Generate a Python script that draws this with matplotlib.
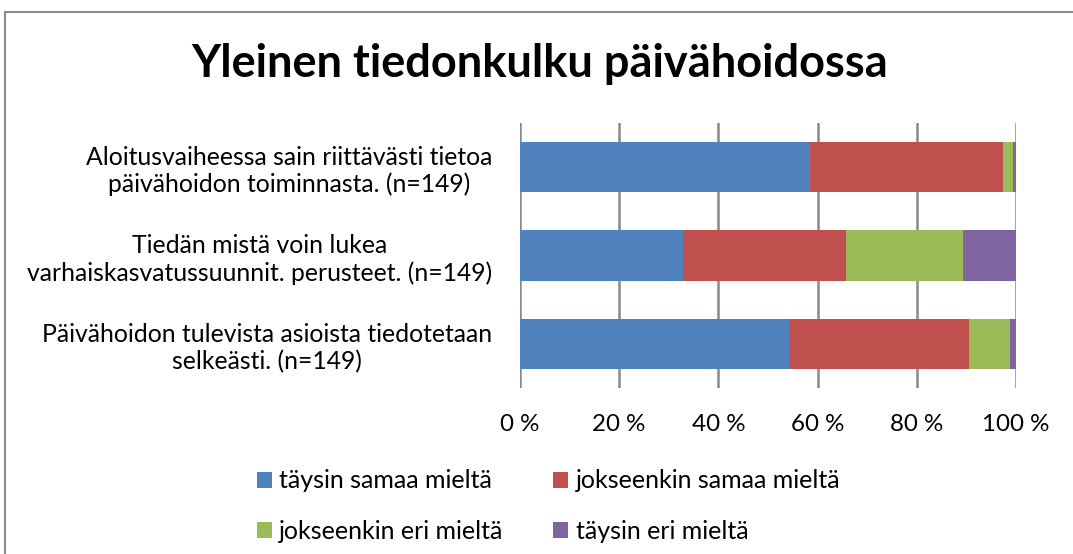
import matplotlib
matplotlib.use('Agg')
import matplotlib.pyplot as plt
from matplotlib.patches import Rectangle
import numpy as np

plt.rcParams['font.family'] = ['Lato', 'DejaVu Sans']

title = 'Yleinen tiedonkulku päivähoidossa'
questions = ['Aloitusvaiheessa sain riittävästi tietoa\npäivähoidon toiminnasta. (n=149)',
             'Tiedän mistä voin lukea\nvarhaiskasvatussuunnit. perusteet. (n=149)',
             'Päivähoidon tulevista asioista tiedotetaan\nselkeästi. (n=149)']
series = ['täysin samaa mieltä', 'jokseenkin samaa mieltä', 'jokseenkin eri mieltä', 'täysin eri mieltä']
taysin_samaa = [58.4, 32.9, 54.4]
jokseenkin_samaa = [38.9, 32.9, 36.2]
jokseenkin_eri = [2.0, 23.5, 8.1]
taysin_eri = [0.7, 10.7, 1.3]
colors = ['#4f81bd', '#c0504d', '#9bbb59', '#8064a2']
ticks = [0, 20, 40, 60, 80, 100]
tick_labels = ['0 %', '20 %', '40 %', '60 %', '80 %', '100 %']

fig = plt.figure(figsize=(10.73, 5.54), dpi=100)
ax = fig.add_axes([0.4846, 0.2996, 0.4623, 0.4784])

# outer chart border
fig.patches.append(Rectangle((5/1073, -0.1), 1.2, 1.1 - 12/554, transform=fig.transFigure,
                             fill=False, edgecolor='#8c8c8c', linewidth=1.5))

y = np.arange(len(questions))[::-1]
left = np.zeros(len(questions))
handles = []
for name, vals, c in zip(series, [taysin_samaa, jokseenkin_samaa, jokseenkin_eri, taysin_eri], colors):
    h = ax.barh(y, vals, left=left, height=0.57, color=c, label=name, zorder=3)
    handles.append(h)
    left += np.array(vals)

ax.set_xlim(0, 100)
ax.set_ylim(-0.5, 2.5)
ax.set_xticks(ticks)
ax.set_xticklabels(tick_labels, fontsize=17.4)
ax.set_yticks(y)
ax.set_yticklabels(questions, fontsize=17.8)
for lab in ax.get_yticklabels():
    lab.set_multialignment('center')
ax.tick_params(axis='both', length=0)
ax.tick_params(axis='x', pad=19)
ax.tick_params(axis='y', pad=20)
for s in ax.spines.values():
    s.set_visible(False)
ax.grid(axis='x', color='#898989', linewidth=1.8, zorder=0)

fig.text(0.503, 0.885, title, ha='center', va='center', fontsize=32.5, fontweight='bold')

# row-major legend order: blue, red / green, purple
order = [0, 2, 1, 3]
fig.legend(handles=[handles[i] for i in order], labels=[series[i] for i in order],
           loc='upper left', bbox_to_anchor=(244/1073, 1 - 457/554), borderpad=0,
           ncol=2, frameon=False, fontsize=18, handlelength=0.6, handleheight=0.6,
           handletextpad=0.3, columnspacing=2.0, labelspacing=1.1)

fig.savefig('out.png', dpi=100)
